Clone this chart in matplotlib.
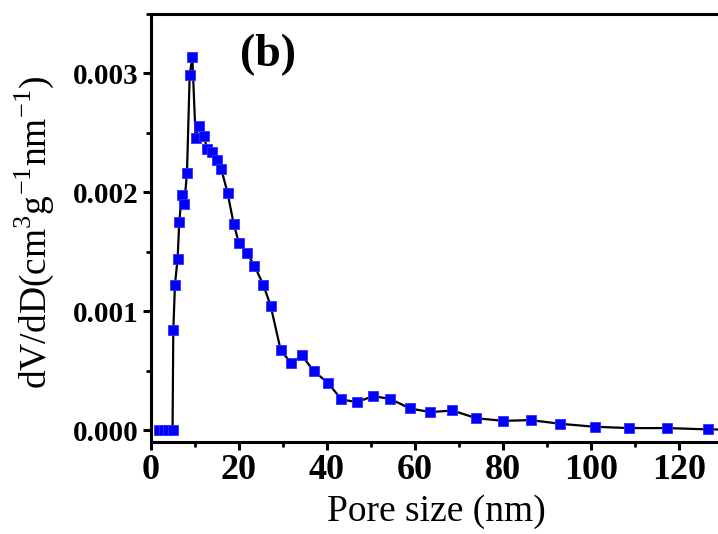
import matplotlib.pyplot as plt
from matplotlib.ticker import MultipleLocator, FormatStrFormatter

plt.rcParams['font.family'] = ['Liberation Serif', 'DejaVu Serif']
plt.rcParams['mathtext.fontset'] = 'custom'
plt.rcParams['mathtext.rm'] = 'Liberation Serif'

# pore size (nm) and dV/dD values
pore_size = [1.9, 2.9, 3.9, 4.9, 5.07, 5.45, 6.05, 6.43, 6.97, 7.57, 8.18, 8.8, 9.4,
             10.14, 10.96, 12.1, 12.7, 13.8, 14.9, 16.0, 17.4, 18.8, 20.0, 21.8,
             23.5, 25.5, 27.2, 29.5, 31.9, 34.3, 37.0, 40.2, 43.3, 46.8, 50.5,
             54.4, 58.9, 63.5, 68.5, 74.0, 80.0, 86.3, 93.1, 100.9, 108.7, 117.4,
             126.7, 134.0]
dvdd = [0.0, 0.0, 0.0, 0.0, 0.00084, 0.001224, 0.001443, 0.00175, 0.001975,
        0.001905, 0.002162, 0.00299, 0.003137, 0.00246, 0.002555, 0.00247,
        0.002367, 0.002339, 0.002275, 0.002193, 0.001997, 0.001734, 0.001574,
        0.00149, 0.001384, 0.001224, 0.001047, 0.00067, 0.000563, 0.000628,
        0.000496, 0.000398, 0.000258, 0.000235, 0.000286, 0.000262, 0.000182,
        0.000151, 0.000165, 0.0001, 0.000078, 0.000084, 0.000053, 0.000028,
        0.000017, 0.000017, 0.000006, 0.000004]

fig = plt.figure(figsize=(7.18, 5.34), dpi=100)
# right spine lies outside the picture, as in the original crop
ax = fig.add_axes([0.2103, 0.1723, 0.827, 0.8015])

ax.plot(pore_size, dvdd, color='black', lw=1.6, marker='s', ms=7.5,
        mfc='#0000ff', mec='#3030ff', mew=0.6)

ax.set_xlim(0, 135)
ax.set_ylim(-0.0001, 0.0035)
ax.xaxis.set_major_locator(MultipleLocator(20))
ax.xaxis.set_minor_locator(MultipleLocator(10))
ax.yaxis.set_major_locator(MultipleLocator(0.001))
ax.yaxis.set_minor_locator(MultipleLocator(0.0005))
ax.yaxis.set_major_formatter(FormatStrFormatter('%.3f'))

for s in ax.spines.values():
    s.set_linewidth(2.2)
ax.tick_params(which='major', direction='out', length=6, width=2.2)
ax.tick_params(which='minor', direction='out', length=3.5, width=2)
ax.tick_params(axis='x', which='major', labelsize=26, pad=3)
ax.tick_params(axis='y', which='major', labelsize=21, pad=3)
for lab in ax.get_xticklabels() + ax.get_yticklabels():
    lab.set_fontweight('bold')

ax.set_xlabel('Pore size (nm)', fontsize=27)
ax.xaxis.set_label_coords(0.481, -0.122)
ax.set_ylabel(r'dV/dD(cm$^3$g$^{-1}$nm$^{-1}$)', fontsize=27)
ax.yaxis.set_label_coords(-0.16, 0.49)

ax.text(0.197, 0.904, '(b)', transform=ax.transAxes, fontsize=33,
        fontweight='bold', ha='center', va='center')

fig.savefig('out.png', dpi=100)
